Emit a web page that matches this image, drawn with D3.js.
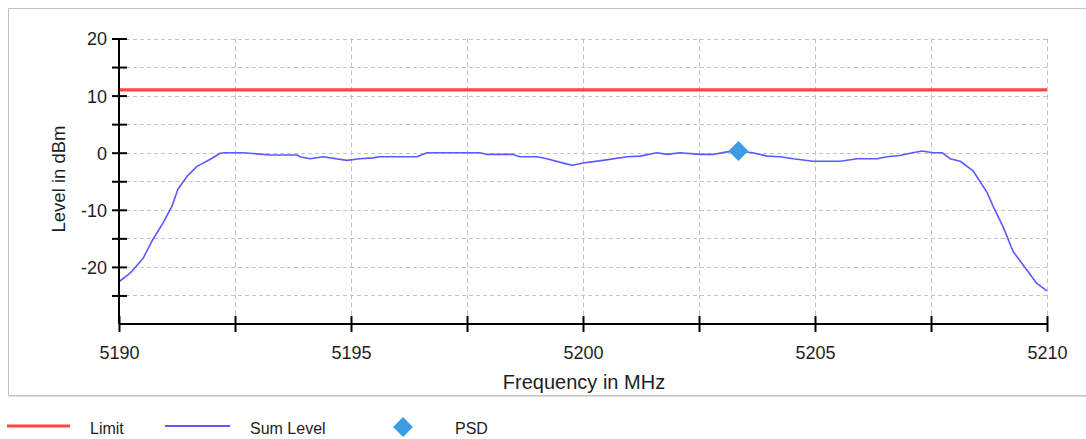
<!DOCTYPE html>
<html>
<head>
<meta charset="utf-8">
<script src="https://cdn.jsdelivr.net/npm/d3@7"></script>
<style>
  html, body { margin: 0; padding: 0; background: #fff; }
  svg { display: block; font-family: "Liberation Sans", Arial, sans-serif; }
</style>
</head>
<body>
<svg id="chart" width="1086" height="439"></svg>
<script>
// Spectrum sweep: frequency (MHz) and summed level (dBm)
const freqMHz = [
  5190.00, 5190.24, 5190.52, 5190.73, 5190.95, 5191.14, 5191.27, 5191.47, 5191.68, 5191.96,
  5192.18, 5192.28, 5192.67, 5192.97, 5193.25, 5193.84, 5193.90, 5194.12, 5194.40, 5194.91,
  5195.19, 5195.47, 5195.62, 5196.42, 5196.64, 5197.78, 5197.93, 5198.49, 5198.64, 5199.01,
  5199.22, 5199.66, 5199.78, 5200.00, 5200.43, 5200.95, 5201.23, 5201.59, 5201.81, 5202.09,
  5202.52, 5202.80, 5203.10, 5203.34, 5203.66, 5203.97, 5204.25, 5204.53, 5204.96, 5205.54,
  5205.91, 5206.34, 5206.55, 5206.83, 5207.05, 5207.31, 5207.54, 5207.74, 5207.91, 5208.13,
  5208.41, 5208.71, 5208.84, 5209.05, 5209.27, 5209.57, 5209.78, 5210.00
];
const sumLevel = [
  -22.6, -21.1, -18.5, -15.2, -12.3, -9.4, -6.4, -4.1, -2.4, -1.2,
  -0.1, 0.0, 0.0, -0.2, -0.4, -0.4, -0.7, -1.05, -0.7, -1.35,
  -1.05, -0.9, -0.7, -0.7, 0.0, 0.0, -0.3, -0.3, -0.7, -0.7,
  -1.05, -2.0, -2.2, -1.8, -1.35, -0.7, -0.6, 0.0, -0.3, 0.0,
  -0.3, -0.3, 0.15, 0.3, 0.0, -0.6, -0.7, -1.05, -1.5, -1.5,
  -1.05, -1.05, -0.7, -0.5, -0.1, 0.3, 0.0, 0.0, -1.05, -1.5,
  -3.2, -7.0, -9.4, -12.9, -17.3, -20.6, -22.9, -24.2
];
const limitLevel = 11;
const psdFreq = [5203.35];
const psdLevel = [0.3];

// Axis ticks
const xMajorTicks = [5190, 5195, 5200, 5205, 5210];
const xMinorTicks = [5192.5, 5197.5, 5202.5, 5207.5];
const yMajorTicks = [-20, -10, 0, 10, 20];
const yMinorTicks = [-25, -15, -5, 5, 15];

const legendLabels = ["Limit", "Sum Level", "PSD"];

const colors = { limit: "#ff4545", sum: "#5a5aff", psd: "#3d9be0", grid: "#c4c4c4", text: "#1e1e1e" };

const svg = d3.select("#chart");

// Outer panel frame (open to the right edge)
svg.append("rect").attr("x", 8.5).attr("y", 8.5).attr("width", 1090).attr("height", 387)
  .attr("fill", "none").attr("stroke", "#c2c2c2").attr("stroke-width", 1);
svg.append("line").attr("x1", 9).attr("x2", 1086).attr("y1", 396.5).attr("y2", 396.5)
  .attr("stroke", "#dcdcdc").attr("stroke-width", 1);

const x = d3.scaleLinear().domain([5190, 5210]).range([119, 1047]);
const y = d3.scaleLinear().domain([-30, 20]).range([324, 38.5]);

// Grid
const grid = svg.append("g");
grid.selectAll("line.h").data(d3.range(-25, 21, 5)).join("line")
  .attr("x1", x(5190)).attr("x2", x(5210))
  .attr("y1", d => Math.round(y(d)) + 0.5).attr("y2", d => Math.round(y(d)) + 0.5)
  .attr("stroke", colors.grid).attr("stroke-width", 1).attr("stroke-dasharray", "4,3");
grid.selectAll("line.v").data(xMajorTicks.concat(xMinorTicks).filter(d => d > 5190)).join("line")
  .attr("x1", d => Math.round(x(d)) + 0.5).attr("x2", d => Math.round(x(d)) + 0.5)
  .attr("y1", y(20)).attr("y2", y(-30))
  .attr("stroke", colors.grid).attr("stroke-width", 1).attr("stroke-dasharray", "5,3");

// Limit line
svg.append("line")
  .attr("x1", x(5190)).attr("x2", x(5210))
  .attr("y1", y(limitLevel)).attr("y2", y(limitLevel))
  .attr("stroke", colors.limit).attr("stroke-width", 3.2);

// Summed level trace
const line = d3.line().x((d, i) => x(freqMHz[i])).y(d => y(d));
svg.append("path").datum(sumLevel)
  .attr("d", line)
  .attr("fill", "none").attr("stroke", colors.sum).attr("stroke-width", 1.6)
  .attr("stroke-linejoin", "round");

// PSD marker
const diamond = d3.symbol().type(d3.symbolSquare).size(196);
svg.selectAll("path.psd").data(psdFreq).join("path")
  .attr("class", "psd")
  .attr("d", diamond)
  .attr("transform", (d, i) => `translate(${x(d)},${y(psdLevel[i])}) rotate(45)`)
  .attr("fill", colors.psd);

// Axes
const tickFont = 18;
const yAxis = d3.axisLeft(y).tickValues(yMajorTicks.concat(yMinorTicks))
  .tickFormat(d => yMajorTicks.includes(d) ? String(d) : "")
  .tickSize(7).tickPadding(5);
const gy = svg.append("g").attr("transform", `translate(${x(5190)},0)`).call(yAxis);
gy.select(".domain").attr("d", `M0,${y(20)}V${y(-30)}`).attr("stroke", "#000").attr("stroke-width", 2);
gy.selectAll(".tick line").attr("x1", -7).attr("x2", 8).attr("stroke", "#000").attr("stroke-width", 2);
gy.selectAll(".tick text").attr("font-size", tickFont).attr("fill", colors.text).attr("x", -12)
  .attr("dy", "0.36em")
  .attr("font-family", "Liberation Sans, Arial, sans-serif");

const xAxis = d3.axisBottom(x).tickValues(xMajorTicks.concat(xMinorTicks))
  .tickFormat(d => xMajorTicks.includes(d) ? String(d) : "")
  .tickSize(8).tickPadding(10);
const gx = svg.append("g").attr("transform", `translate(0,${y(-30)})`).call(xAxis);
gx.select(".domain").attr("d", `M${x(5190)},0H${x(5210)}`).attr("stroke", "#000").attr("stroke-width", 2);
gx.selectAll(".tick line").attr("y1", -8).attr("y2", 8).attr("stroke", "#000").attr("stroke-width", 2);
gx.selectAll(".tick text").attr("font-size", tickFont).attr("fill", colors.text)
  .attr("y", 35).attr("dy", 0)
  .attr("font-family", "Liberation Sans, Arial, sans-serif");

// Axis titles
svg.append("text")
  .attr("x", 584).attr("y", 389)
  .attr("text-anchor", "middle").attr("font-size", 20).attr("fill", colors.text)
  .text("Frequency in MHz");
svg.append("text")
  .attr("transform", "translate(65,179) rotate(-90)")
  .attr("text-anchor", "middle").attr("font-size", 18.5).attr("fill", colors.text)
  .text("Level in dBm");

// Legend
const legend = svg.append("g");
legend.append("line").attr("x1", 7).attr("x2", 70).attr("y1", 426).attr("y2", 426)
  .attr("stroke", colors.limit).attr("stroke-width", 3);
legend.append("line").attr("x1", 165).attr("x2", 230).attr("y1", 426).attr("y2", 426)
  .attr("stroke", colors.sum).attr("stroke-width", 2);
legend.append("path").attr("d", diamond)
  .attr("transform", "translate(403,427) rotate(45)").attr("fill", colors.psd);
const legendX = [90, 250, 455];
legend.selectAll("text").data(legendLabels).join("text")
  .attr("x", (d, i) => legendX[i]).attr("y", 434)
  .attr("font-size", 16).attr("fill", colors.text)
  .text(d => d);
</script>
</body>
</html>
